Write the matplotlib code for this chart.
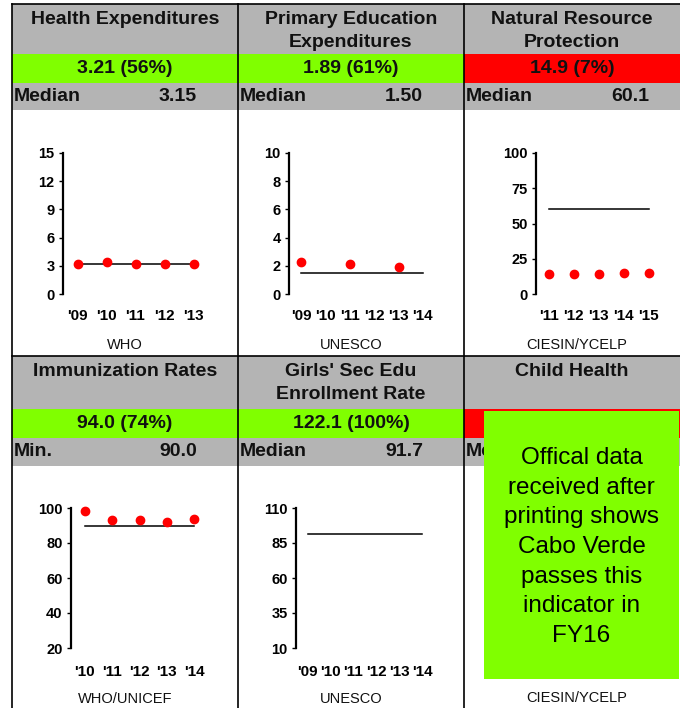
import numpy as np
import matplotlib
matplotlib.use("Agg")
import matplotlib.pyplot as plt
from matplotlib.patches import Rectangle

plt.rcParams['font.family'] = ['Liberation Sans', 'DejaVu Sans']

W, H = 680, 708
GRAY = '#b4b4b4'
GREEN = '#80ff00'
RED = '#ff0000'

# panel texts
titles = ["Health Expenditures", "Primary Education\nExpenditures", "Natural Resource\nProtection",
          "Immunization Rates", "Girls' Sec Edu\nEnrollment Rate", "Child Health"]
scores = ["3.21 (56%)", "1.89 (61%)", "14.9 (7%)", "94.0 (74%)", "122.1 (100%)", ""]
score_cols = [GREEN, GREEN, RED, GREEN, GREEN, RED]
ref_names = ["Median", "Median", "Median", "Min.", "Median", "Median"]
ref_texts = ["3.15", "1.50", "60.1", "90.0", "91.7", ""]
sources = ["WHO", "UNESCO", "CIESIN/YCELP", "WHO/UNICEF", "UNESCO", "CIESIN/YCELP"]

# chart data
health_years = ["'09", "'10", "'11", "'12", "'13"]
health_vals = [3.2, 3.45, 3.2, 3.2, 3.21]
health_med = 3.15
health_yt = [0, 3, 6, 9, 12, 15]

edu_years = ["'09", "'10", "'11", "'12", "'13", "'14"]
edu_vals = [2.29, np.nan, 2.15, np.nan, 1.89, np.nan]
edu_med = 1.50
edu_yt = [0, 2, 4, 6, 8, 10]

nrp_years = ["'11", "'12", "'13", "'14", "'15"]
nrp_vals = [14.0, 14.0, 13.9, 15.1, 14.9]
nrp_med = 60.1
nrp_yt = [0, 25, 50, 75, 100]

imm_years = ["'10", "'11", "'12", "'13", "'14"]
imm_vals = [98.3, 93.0, 93.0, 92.2, 94.0]
imm_min = 90.0
imm_yt = [20, 40, 60, 80, 100]

girls_years = ["'09", "'10", "'11", "'12", "'13", "'14"]
girls_med = 91.7
girls_yt = [10, 35, 60, 85, 110]

note = "Offical data\nreceived after\nprinting shows\nCabo Verde\npasses this\nindicator in\nFY16"

fig = plt.figure(figsize=(W / 100, H / 100), dpi=100)
bg = fig.add_axes([0, 0, 1, 1])
bg.set_xlim(0, W)
bg.set_ylim(H, 0)
bg.axis('off')

cols = [12, 238, 464, 680]
rows = [(4, 54, 83, 110), (356, 409, 438, 466)]

for r in range(2):
    top, band1, band2, band3 = rows[r]
    for c in range(3):
        i = r * 3 + c
        x0, x1 = cols[c], cols[c + 1]
        bg.add_patch(Rectangle((x0, top), x1 - x0, band1 - top, color=GRAY, lw=0))
        bg.add_patch(Rectangle((x0, band1), x1 - x0, band2 - band1, color=score_cols[i], lw=0))
        bg.add_patch(Rectangle((x0, band2), x1 - x0, band3 - band2, color=GRAY, lw=0))
        xc = (x0 + x1) / 2
        bg.text(xc, top + 7, titles[i], ha='center', va='top', fontsize=14,
                fontweight='bold', color='#111111', linespacing=1.45)
        bg.text(xc, (band1 + band2) / 2, scores[i], ha='center', va='center',
                fontsize=14, fontweight='bold', color='#111111')
        bg.text(x0 + 2, (band2 + band3) / 2, ref_names[i], ha='left', va='center',
                fontsize=14, fontweight='bold', color='#111111')
        bg.text(x0 + 185, (band2 + band3) / 2, ref_texts[i], ha='right', va='center',
                fontsize=14, fontweight='bold', color='#111111')

# grid lines
for x in cols[:3]:
    bg.plot([x, x], [4, H], color='black', lw=1.2)
for y in [4, 356]:
    bg.plot([12, W], [y, y], color='black', lw=1.2)

src_y = [345, 345, 345, 699, 699, 698]
src_x = [125, 351, 577, 125, 351, 577]
for i in range(6):
    bg.text(src_x[i], src_y[i], sources[i], ha='center', va='center', fontsize=10.5, color='#111111')

# overlay note on child health
bg.add_patch(Rectangle((484, 411), 195, 268, color=GREEN, lw=0, zorder=5))
bg.text(581.5, 547, note, ha='center', va='center', fontsize=17.5, color='black',
        linespacing=1.45, zorder=6)


def make_ax(left, right, top, bottom):
    return fig.add_axes([left / W, 1 - bottom / H, (right - left) / W, (bottom - top) / H])


def style(ax, years, yt, pad):
    n = len(years)
    ax.patch.set_alpha(0)
    for s in ['top', 'right', 'bottom']:
        ax.spines[s].set_visible(False)
    ax.spines['left'].set_linewidth(1.6)
    ax.set_xlim(-0.5, n - 0.5)
    ax.set_ylim(yt[0], yt[-1])
    ax.set_xticks(range(n))
    ax.set_xticklabels(years, fontsize=11, fontweight='bold')
    ax.set_yticks(yt)
    ax.set_yticklabels([str(v) for v in yt], fontsize=10.5, fontweight='bold')
    ax.tick_params(axis='x', length=0, pad=pad)
    ax.tick_params(axis='y', length=3, width=1, pad=3)


def draw(ax, years, vals, med):
    n = len(years)
    ax.plot(range(n), [med] * n, color='black', lw=1.1, zorder=2)
    if vals is not None:
        ax.plot(range(n), vals, 'o', color='red', ms=6, zorder=3, clip_on=False)


ax1 = make_ax(63, 208, 153, 294)
style(ax1, health_years, health_yt, 11)
draw(ax1, health_years, health_vals, health_med)

ax2 = make_ax(289, 435, 153, 294)
style(ax2, edu_years, edu_yt, 11)
draw(ax2, edu_years, edu_vals, edu_med)

ax3 = make_ax(536, 661, 153, 294)
style(ax3, nrp_years, nrp_yt, 11)
draw(ax3, nrp_years, nrp_vals, nrp_med)

ax4 = make_ax(71, 208, 508, 648)
style(ax4, imm_years, imm_yt, 12)
draw(ax4, imm_years, imm_vals, imm_min)

ax5 = make_ax(296, 434, 508, 648)
style(ax5, girls_years, girls_yt, 12)
draw(ax5, girls_years, None, girls_med)

fig.savefig('out.png', dpi=100)
